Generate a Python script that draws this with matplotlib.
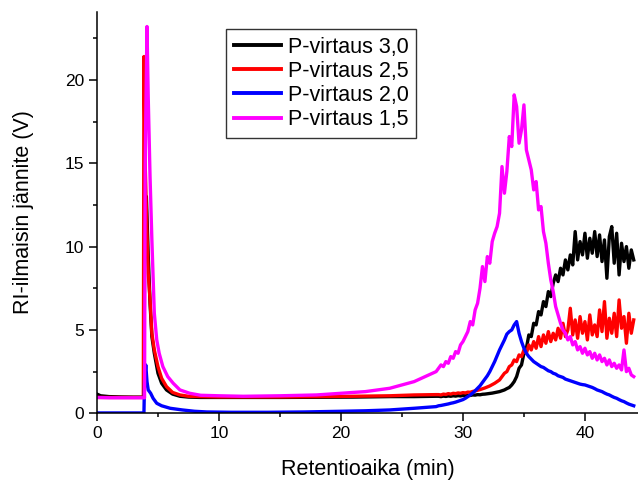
import matplotlib
matplotlib.use("Agg")
import matplotlib.pyplot as plt

plt.rcParams["font.family"] = ["Liberation Sans", "DejaVu Sans"]

# --- early part of each run (injection spike + baseline) ---
t_black_early = [0, 0.3, 1.0, 2.0, 3.0, 3.85, 3.9, 4.05, 4.2, 4.35, 4.5, 4.7, 5.0,
                 5.3, 5.7, 6.2, 6.8, 7.5, 8.5, 10, 12, 15, 18, 21, 24, 26, 27.8]
v_black_early = [1.15, 1.05, 1.0, 0.98, 0.97, 0.97, 9.0, 13.0, 9.5, 6.6, 4.6, 3.6, 2.4,
                 1.8, 1.4, 1.15, 1.02, 0.97, 0.95, 0.95, 0.95, 0.95, 0.96, 0.97, 1.0, 1.0, 1.02]

t_red_early = [0, 1, 2, 3, 3.8, 3.85, 3.95, 4.1, 4.2, 4.35, 4.5, 4.7, 5.0, 5.3,
               5.7, 6.2, 6.8, 7.5, 8.5, 10, 12, 15, 18, 21, 24, 26, 27.8]
v_red_early = [0.95, 0.95, 0.95, 0.95, 0.95, 21.4, 15.0, 10.8, 8.4, 6.8, 4.8, 3.8, 2.8, 2.1,
               1.6, 1.25, 1.1, 1.02, 1.0, 0.98, 0.98, 0.98, 1.0, 1.02, 1.05, 1.1, 1.12]

t_blue_early = [0, 1, 2, 3, 3.85, 3.9, 4.0, 4.1, 4.2, 4.4, 4.6, 4.9, 5.3, 6.0,
                7, 8, 9, 11, 14, 17, 20, 22, 24, 26, 27.8]
v_blue_early = [0.02, 0.02, 0.02, 0.02, 0.02, 2.0, 2.9, 1.9, 1.4, 1.2, 0.9, 0.6, 0.45, 0.3,
                0.2, 0.12, 0.08, 0.06, 0.06, 0.08, 0.12, 0.15, 0.2, 0.3, 0.4]

t_mag_early = [0, 1, 2, 3, 3.9, 3.95, 4.1, 4.2, 4.35, 4.5, 4.7, 4.9, 5.1, 5.4,
               5.8, 6.25, 6.8, 7.6, 8.5, 10, 12, 15, 18, 20, 22, 24, 26, 27.8]
v_mag_early = [0.95, 0.93, 0.93, 0.93, 0.93, 15.0, 23.2, 19.0, 14.2, 10.4, 6.0, 4.4, 3.6, 2.8,
               2.2, 1.8, 1.4, 1.2, 1.08, 1.05, 1.02, 1.05, 1.1, 1.2, 1.3, 1.5, 1.9, 2.5]

# --- late part (elution peaks), shared sampling times ---
t_tail = [28.0, 28.2, 28.4, 28.6, 28.8, 29.0, 29.2, 29.4, 29.6, 29.8,
          30.0, 30.2, 30.4, 30.6, 30.8, 31.0, 31.2, 31.4, 31.6, 31.8,
          32.0, 32.2, 32.4, 32.6, 32.8, 33.0, 33.2, 33.4, 33.6, 33.8,
          34.0, 34.2, 34.4, 34.6, 34.8, 35.0, 35.2, 35.4, 35.6, 35.8,
          36.0, 36.2, 36.4, 36.6, 36.8, 37.0, 37.2, 37.4, 37.6, 37.8,
          38.0, 38.2, 38.4, 38.6, 38.8, 39.0, 39.2, 39.4, 39.6, 39.8,
          40.0, 40.2, 40.4, 40.6, 40.8, 41.0, 41.2, 41.4, 41.6, 41.8,
          42.0, 42.2, 42.4, 42.6, 42.8, 43.0, 43.2, 43.4, 43.6, 43.8,
          44.0]

v_black_tail = [1.02, 1.0, 1.03, 1.01, 1.04, 1.02, 1.05, 1.03, 1.06, 1.04,
                1.07, 1.05, 1.08, 1.07, 1.1, 1.09, 1.12, 1.11, 1.14, 1.15,
                1.17, 1.19, 1.21, 1.24, 1.27, 1.3, 1.35, 1.4, 1.48, 1.55,
                1.7, 1.9, 2.2, 2.7, 2.9, 3.6, 3.9, 4.7, 4.6, 5.4,
                5.3, 6.1, 5.9, 6.7, 6.4, 7.3, 7.0, 7.8, 8.3, 7.9,
                8.7, 8.3, 9.2, 8.6, 9.5, 8.9, 10.9, 9.2, 10.3, 9.5,
                10.8, 9.3, 10.5, 9.6, 10.9, 9.4, 10.7, 9.1, 10.4, 8.1,
                10.6, 11.2, 9.0, 10.8, 8.3, 10.2, 9.1, 10.0, 8.7, 9.8,
                9.2]

v_red_tail = [1.12, 1.1, 1.15, 1.13, 1.18, 1.15, 1.2, 1.18, 1.22, 1.2,
              1.24, 1.22, 1.27, 1.26, 1.31, 1.34, 1.38, 1.42, 1.47, 1.52,
              1.58, 1.64, 1.72, 1.8, 1.9, 2.0, 2.2, 2.4, 2.5, 2.8,
              2.9, 3.2, 3.1, 3.5, 3.4, 3.8, 3.6, 4.1, 3.8, 4.3,
              3.9, 4.6, 4.0, 4.7, 4.2, 4.9, 4.3, 4.8, 4.4, 5.1,
              4.5, 5.4, 4.6, 5.0, 6.3, 4.7, 5.6, 4.5, 5.8, 4.8,
              5.5, 4.4, 5.9, 4.7, 5.3, 4.6, 6.2, 4.9, 6.7, 4.5,
              5.7, 4.8, 6.0, 4.6, 6.8, 5.1, 5.8, 4.2, 6.0, 4.8,
              5.6]

v_blue_tail = [0.45, 0.47, 0.5, 0.53, 0.56, 0.6, 0.63, 0.67, 0.72, 0.77,
               0.82, 0.9, 1.0, 1.1, 1.22, 1.35, 1.5, 1.65, 1.85, 2.05,
               2.25, 2.5, 2.8, 3.1, 3.45, 3.8, 4.1, 4.4, 4.75, 4.9,
               5.0, 5.3, 5.5, 4.8, 4.3, 3.9, 3.6, 3.4, 3.25, 3.1,
               3.0, 2.9, 2.8, 2.75, 2.65, 2.55, 2.5, 2.4, 2.35, 2.25,
               2.2, 2.15, 2.05, 2.0, 1.95, 1.9, 1.85, 1.8, 1.75, 1.72,
               1.7, 1.65, 1.6, 1.55, 1.48, 1.4, 1.35, 1.3, 1.22, 1.15,
               1.1, 1.02, 0.95, 0.9, 0.82, 0.75, 0.7, 0.62, 0.55, 0.5,
               0.45]

v_mag_tail = [2.7, 2.9, 2.8, 3.1, 3.0, 3.4, 3.3, 3.7, 3.6, 4.1,
              4.3, 4.6, 4.9, 5.5, 5.3, 6.2, 6.6, 7.5, 8.8, 7.9,
              9.4, 9.0, 10.3, 10.8, 11.2, 12.0, 14.8, 13.2, 14.5, 16.6,
              16.0, 19.1, 18.4, 16.2, 17.0, 18.5, 15.8, 15.2, 14.6, 13.4,
              13.9, 12.2, 12.4, 10.9, 10.2, 9.0, 8.0, 7.3, 6.4, 5.9,
              5.4, 5.0, 4.8, 4.4, 4.6, 4.1, 4.3, 3.8, 4.0, 3.6,
              3.9, 3.5, 3.7, 3.3, 3.6, 3.2, 3.5, 3.1, 3.3, 2.9,
              3.2, 2.8, 3.0, 2.7, 2.9, 2.6, 3.8, 2.5, 2.7, 2.3,
              2.2]

labels = ["P-virtaus 3,0", "P-virtaus 2,5", "P-virtaus 2,0", "P-virtaus 1,5"]
colors = ["black", "#ff0000", "#0000ff", "#ff00ff"]

series = [
    (t_black_early + t_tail, v_black_early + v_black_tail),
    (t_red_early + t_tail, v_red_early + v_red_tail),
    (t_blue_early + t_tail, v_blue_early + v_blue_tail),
    (t_mag_early + t_tail, v_mag_early + v_mag_tail),
]

fig = plt.figure(figsize=(6.38, 4.8), dpi=100)
ax = fig.add_axes([0.152, 0.139, 0.848, 0.837])

for (t, v), lab, col in zip(series, labels, colors):
    ax.plot(t, v, color=col, lw=2.4, label=lab)

ax.set_xlim(0, 44.35)
ax.set_ylim(0, 24.1)
ax.set_xticks([0, 10, 20, 30, 40])
ax.set_xticks([5, 15, 25, 35], minor=True)
ax.set_yticks([0, 5, 10, 15, 20])
ax.set_yticks([2.5, 7.5, 12.5, 17.5, 22.5], minor=True)

for side in ["top", "right"]:
    ax.spines[side].set_visible(False)
for side in ["left", "bottom"]:
    ax.spines[side].set_linewidth(1.1)

ax.tick_params(which="major", direction="out", length=6, width=1.1, labelsize=12.5, pad=3)
ax.tick_params(which="minor", direction="out", length=3, width=1.1)

ax.set_xlabel("Retentioaika (min)", fontsize=15.5, labelpad=13)
ax.set_ylabel("RI-ilmaisin jännite (V)", fontsize=15.5, labelpad=22)

leg = ax.legend(loc="upper left", bbox_to_anchor=(226 / 638, 1 - 29 / 480),
                bbox_transform=fig.transFigure, borderaxespad=0,
                fontsize=15.5, frameon=True, fancybox=False, handlelength=2.2,
                handletextpad=0.33, labelspacing=0.15, borderpad=0.35)
leg.get_frame().set_edgecolor("black")
leg.get_frame().set_linewidth(1.0)
for line in leg.get_lines():
    line.set_linewidth(2.8)

fig.savefig("out.png", dpi=100)
